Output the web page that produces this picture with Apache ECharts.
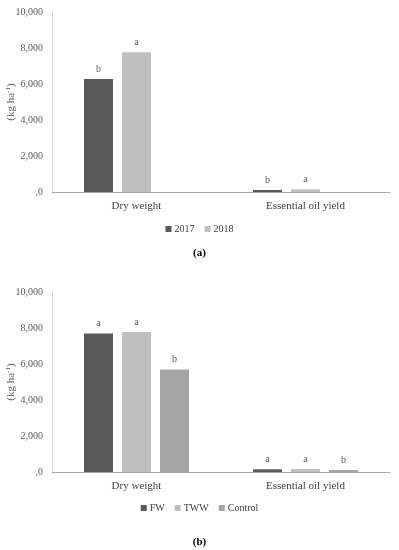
<!DOCTYPE html>
<html><head><meta charset="utf-8">
<script src="https://cdn.jsdelivr.net/npm/echarts@6/dist/echarts.min.js"></script>
<style>html,body{margin:0;padding:0;background:#fff}#c{width:399px;height:550px}</style>
</head><body><div id="c"></div>
<script>
const categories = ['Dry weight', 'Essential oil yield'];
const yTicks = [0, 2000, 4000, 6000, 8000, 10000];
// Panel (a)
const namesA = ['2017', '2018'];
const values2017 = [6280, 110];
const values2018 = [7760, 150];
const letters2017 = ['b', 'b'];
const letters2018 = ['a', 'a'];
// Panel (b)
const namesB = ['FW', 'TWW', 'Control'];
const valuesFW = [7700, 150];
const valuesTWW = [7780, 160];
const valuesControl = [5690, 110];
const lettersFW = ['a', 'a'];
const lettersTWW = ['a', 'a'];
const lettersControl = ['b', 'b'];

const FONT = '"Liberation Serif", "DejaVu Serif", serif';
const colors = { dark: '#595959', light: '#bfbfbf', mid: '#a5a5a5' };

function yAxis(idx) {
  return {
    gridIndex: idx, type: 'value', min: yTicks[0], max: yTicks[yTicks.length - 1], interval: 2000,
    axisLine: { show: true, lineStyle: { color: '#d9d9d9', width: 1 } },
    axisTick: { show: false }, splitLine: { show: false },
    axisLabel: { fontFamily: FONT, fontSize: 10, color: '#595959', margin: 9,
      formatter: v => v === 0 ? ',0' : v.toLocaleString('en-US') },
    name: '{a|(kg ha}{s|-1}{a|)}', nameLocation: 'middle', nameGap: 35, nameRotate: 90,
    nameMoveOverlap: false,
    nameTextStyle: { rich: { a: { fontFamily: FONT, fontSize: 11, color: '#595959' },
      s: { fontFamily: FONT, fontSize: 7, color: '#595959', verticalAlign: 'top', padding: [0, 0, 5, 0] } } }
  };
}
function xAxis(idx) {
  return {
    gridIndex: idx, type: 'category', data: categories,
    axisLine: { lineStyle: { color: '#a6a6a6', width: 1 } },
    axisTick: { show: false },
    axisLabel: { fontFamily: FONT, fontSize: 11, color: '#404040', margin: 9 }
  };
}
function bar(name, data, letters, color, idx) {
  return {
    name, type: 'bar', xAxisIndex: idx, yAxisIndex: idx, data,
    barWidth: 29, barGap: '31%', itemStyle: { color },
    label: { show: true, position: 'top', distance: 5, fontFamily: FONT, fontSize: 10, color: '#595959',
      formatter: p => letters[p.dataIndex] }
  };
}

const chart = echarts.init(document.getElementById('c'), null, { renderer: 'canvas' });
chart.setOption({
  animation: false,
  backgroundColor: '#ffffff',
  grid: [
    { left: 52, right: 9, top: 12, height: 180, containLabel: false, outerBoundsMode: 'none' },
    { left: 52, right: 9, top: 292, height: 180, containLabel: false, outerBoundsMode: 'none' }
  ],
  xAxis: [xAxis(0), xAxis(1)],
  yAxis: [yAxis(0), yAxis(1)],
  title: [
    { text: '(a)', left: 'center', top: 243, textStyle: { fontFamily: FONT, fontSize: 11, fontWeight: 'bold', color: '#000' } },
    { text: '(b)', left: 'center', top: 532, textStyle: { fontFamily: FONT, fontSize: 11, fontWeight: 'bold', color: '#000' } }
  ],
  legend: [
    { data: namesA, top: 219, left: 'center', itemWidth: 6, itemHeight: 6, itemGap: 10, icon: 'rect',
      textStyle: { fontFamily: FONT, fontSize: 10, color: '#404040', padding: [0, 0, 0, -2] } },
    { data: namesB, top: 498, left: 'center', itemWidth: 6, itemHeight: 6, itemGap: 10, icon: 'rect',
      textStyle: { fontFamily: FONT, fontSize: 10, color: '#404040', padding: [0, 0, 0, -2] } }
  ],
  series: [
    bar('2017', values2017, letters2017, colors.dark, 0),
    bar('2018', values2018, letters2018, colors.light, 0),
    { name: 'spacer', type: 'bar', xAxisIndex: 0, yAxisIndex: 0, data: [null, null], barWidth: 29, barGap: '31%' },
    bar('FW', valuesFW, lettersFW, colors.dark, 1),
    bar('TWW', valuesTWW, lettersTWW, colors.light, 1),
    bar('Control', valuesControl, lettersControl, colors.mid, 1)
  ]
});
</script></body></html>
